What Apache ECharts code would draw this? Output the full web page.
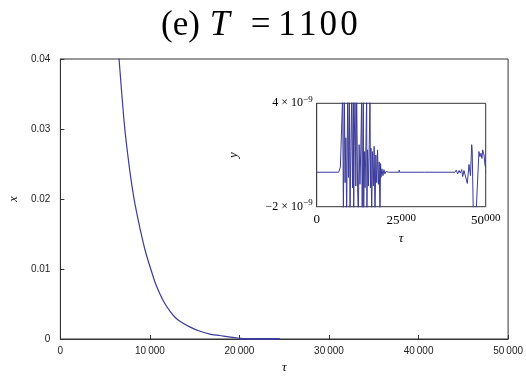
<!DOCTYPE html>
<html>
<head>
<meta charset="utf-8">
<script src="https://cdn.jsdelivr.net/npm/echarts@6/dist/echarts.min.js"></script>
<style>
html,body{margin:0;padding:0;background:#fff;}
#c{width:526px;height:379px;}
</style>
</head>
<body>
<div id="c"></div>
<script>
// Main panel: x(τ)
var mainTau = [6400, 6560, 7113, 7666, 8219, 8960, 9500, 10066, 10600, 11173, 11700, 12279, 12800, 13385, 14500, 15597, 16700, 17810, 18800, 19800, 20300];
var mainX   = [0.0424, 0.0399, 0.0311, 0.0249, 0.0201, 0.0154, 0.0125, 0.0101, 0.0080, 0.0063, 0.0050, 0.0039, 0.0031, 0.0025, 0.0017, 0.0011, 0.0007, 0.0005, 0.0003, 0.00014, 0.00008];
var flatTau = [20000, 24500];
var flatX   = [0, 0];
var mainXTicks = [0, 10000, 20000, 30000, 40000, 50000];
var mainYTicks = [0, 0.01, 0.02, 0.03, 0.04];

// Inset: y(τ), values in units of 1e-9
var insetTau = [0, 6500, 7000, 7400, 7690, 7890, 8180, 8400, 8620, 8870, 9170, 9400, 9660, 9860, 10100, 10350, 10600, 10840, 10950, 11100, 11340, 11580, 11830, 12100, 12320, 12550, 12800, 13060, 13310, 13450, 13650, 13800, 13900, 14100, 14300, 14550, 14790, 14850, 15050, 15300, 15550, 15770, 15900, 16050, 16270, 16500, 16750, 17000, 17250, 17500, 17750, 18000, 18250, 18500, 18730, 18900, 19020, 19300, 19600, 19900, 20200, 20500, 21200, 24300, 24400, 24500, 31900, 32000, 32100, 39100, 39200, 39300, 40900, 41300, 41700, 42100, 42500, 42900, 43200, 43580, 44000, 44560, 45060, 45500, 45850, 46000, 46150, 46350, 47130, 47600, 48000, 48300, 48600, 48900, 49110, 49500, 49800, 50000];
var insetY = [0, 0, 0.3, 0.2, 4.5, -2.5, 4.5, -0.6, 2.0, -2.5, 4.5, -0.3, 4.5, -2.5, 1.2, 4.5, -0.9, 4.5, -2.5, 1.5, 4.5, -0.8, 4.5, -0.9, -2.5, 1.6, -0.7, 1.4, 4.5, -2.5, 1.5, 4.5, -2.5, 1.2, -0.9, 1.5, 4.5, -2.5, 1.3, -0.8, 1.6, 4.5, -0.9, 1.4, -2.5, 1.2, -0.8, 1.5, -2.5, 1.0, -0.6, 1.3, -0.7, 0.6, -2.5, 0.5, -0.3, 0.2, -0.2, 0.15, -0.1, 0.05, 0, 0, 0.12, 0, 0, 0.08, 0, 0, 0.08, 0, 0, 0.12, -0.1, 0.1, -0.05, 0.15, -0.25, 0.1, 0.2, -0.65, 0.45, -0.2, 1.6, 1.3, 1.25, -2.5, -2.5, -2.5, 1.2, 0.9, 1.1, 0.8, 1.3, 1.0, 0.4, 0.3];
var insetXTicks = [0, 25000, 50000];
var insetYTicks = [-2, 4];

function zip(a, b) { return a.map(function (v, i) { return [v, b[i]]; }); }

var lineColor = '#3b3b9a';
var axisColor = '#333';
var serif = 'Liberation Serif';
var sans = 'Liberation Sans';

function groupThousands(v) {
  if (v < 10000) return String(v);
  var s = String(v);
  return s.slice(0, s.length - 3) + '\u2009' + s.slice(s.length - 3);
}

var chart = echarts.init(document.getElementById('c'), null, { renderer: 'canvas' });
chart.setOption({
  animation: false,
  backgroundColor: '#fff',
  graphic: [{
    type: 'text',
    left: 161,
    top: 8,
    z: 10,
    style: {
      text: '{n|(e)}{t|T}{e|=}{d|1}{d|1}{d|0}{d|0}',
      rich: {
        n: { fontFamily: serif, fontSize: 35, fill: '#000' },
        t: { fontFamily: serif, fontSize: 36, fontStyle: 'italic', padding: [0, 0, 0, 10] },
        e: { fontFamily: serif, fontSize: 35, padding: [0, 6, 0, 21] },
        d: { fontFamily: serif, fontSize: 35, padding: [0, 1.6, 0, 1.6] }
      }
    }
  }],
  grid: [
    { left: 59, top: 59, width: 452, height: 280, show: true, borderColor: axisColor, borderWidth: 1, backgroundColor: 'transparent' },
    { left: 316.7, top: 103.3, width: 169, height: 103.4, show: true, borderColor: axisColor, borderWidth: 1, backgroundColor: '#fff', z: 5 }
  ],
  xAxis: [{
    gridIndex: 0, type: 'value', min: mainXTicks[0], max: mainXTicks[mainXTicks.length - 1], interval: 10000,
    name: 'τ', nameLocation: 'middle', nameGap: 19,
    nameTextStyle: { fontFamily: serif, fontStyle: 'italic', fontSize: 13, color: '#000' },
    axisLine: { show: true, lineStyle: { color: axisColor, width: 1 } },
    axisTick: { show: true, inside: true, length: 4, lineStyle: { color: axisColor } },
    axisLabel: { margin: 7, fontFamily: sans, fontSize: 10, color: '#222', formatter: groupThousands },
    splitLine: { show: false }
  }, {
    gridIndex: 1, type: 'value', min: insetXTicks[0], max: insetXTicks[insetXTicks.length - 1], interval: 25000,
    name: 'τ', nameLocation: 'middle', nameGap: 25,
    nameTextStyle: { fontFamily: serif, fontStyle: 'italic', fontSize: 13, color: '#000' },
    axisLine: { show: true, lineStyle: { color: axisColor, width: 1 } },
    axisTick: { show: true, inside: true, length: 3, lineStyle: { color: axisColor } },
    axisLabel: {
      margin: 6, color: '#000',
      formatter: function (v) {
        if (v === 0) return '{a|0}';
        var s = String(v);
        return '{a|' + s.slice(0, s.length - 3) + '}{b|' + s.slice(s.length - 3) + '}';
      },
      rich: {
        a: { fontFamily: serif, fontSize: 13, color: '#000' },
        b: { fontFamily: serif, fontSize: 11, color: '#000', padding: [0, 0, 4, 0] }
      }
    },
    splitLine: { show: false }
  }],
  yAxis: [{
    gridIndex: 0, type: 'value', min: mainYTicks[0], max: mainYTicks[mainYTicks.length - 1], interval: 0.01,
    name: 'x', nameLocation: 'middle', nameGap: 40, nameRotate: 90,
    nameTextStyle: { fontFamily: serif, fontStyle: 'italic', fontSize: 12, color: '#000' },
    axisLine: { show: true, lineStyle: { color: axisColor, width: 1 } },
    axisTick: { show: true, inside: true, length: 4, lineStyle: { color: axisColor } },
    axisLabel: { margin: 10, fontFamily: sans, fontSize: 10, color: '#222',
      formatter: function (v) { return v === 0 ? '0' : v.toFixed(2); } },
    splitLine: { show: false }
  }, {
    gridIndex: 1, type: 'value', min: insetYTicks[0], max: insetYTicks[1], interval: 6,
    name: 'y', nameLocation: 'middle', nameGap: 77, nameRotate: 90,
    nameTextStyle: { fontFamily: serif, fontStyle: 'italic', fontSize: 13, color: '#000' },
    axisLine: { show: true, lineStyle: { color: axisColor, width: 1 } },
    axisTick: { show: false },
    axisLabel: {
      margin: 4, color: '#000',
      formatter: function (v) {
        var m = v < 0 ? '\u2212' + Math.abs(v) : String(v);
        return '{m|' + m + ' \u00d7 10}{s|\u22129}';
      },
      rich: {
        m: { fontFamily: serif, fontSize: 12, color: '#000' },
        s: { fontFamily: serif, fontSize: 9, color: '#000', padding: [0, 0, 8, 0] }
      }
    },
    splitLine: { show: false }
  }],
  series: [{
    type: 'line', xAxisIndex: 0, yAxisIndex: 0, data: zip(mainTau, mainX), smooth: 0.2,
    showSymbol: false, symbol: 'none', clip: true,
    lineStyle: { color: lineColor, width: 1.2 }
  }, {
    type: 'line', xAxisIndex: 0, yAxisIndex: 0, data: zip(flatTau, flatX),
    showSymbol: false, symbol: 'none', clip: false,
    lineStyle: { color: lineColor, width: 2 }
  }, {
    type: 'line', xAxisIndex: 1, yAxisIndex: 1, data: zip(insetTau, insetY), z: 6,
    showSymbol: false, symbol: 'none', clip: true,
    lineStyle: { color: lineColor, width: 1 }
  }]
});
</script>
</body>
</html>
